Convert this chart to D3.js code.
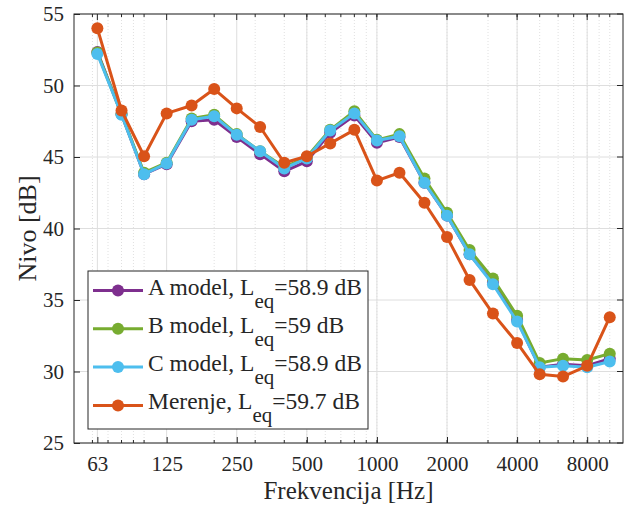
<!DOCTYPE html>
<html>
<head>
<meta charset="utf-8">
<script src="https://cdn.jsdelivr.net/npm/d3@7"></script>
<style>
  body { margin: 0; background: #fff; }
  text { font-family: "Liberation Serif", "Times New Roman", serif; fill: #262626; }
</style>
</head>
<body>
<svg width="626" height="510"></svg>
<script>
// third-octave bands
let freqs = [63, 80, 100, 125, 160, 200, 250, 315, 400, 500, 630, 800, 1000,
    1250, 1600, 2000, 2500, 3150, 4000, 5000, 6300, 8000, 10000];
let modelA = [52.35, 48.0, 43.8, 44.5, 47.5, 47.6, 46.4, 45.2, 44.0, 44.7, 46.7, 47.9, 46.0,
    46.4, 43.2, 40.9, 38.2, 36.2, 33.6, 30.3, 30.5, 30.4, 30.9];
let modelB = [52.3, 48.0, 43.9, 44.6, 47.7, 47.95, 46.6, 45.4, 44.3, 45.0, 46.9, 48.2, 46.2,
    46.6, 43.5, 41.1, 38.5, 36.5, 33.9, 30.6, 30.9, 30.8, 31.25];
let modelC = [52.2, 47.95, 43.8, 44.55, 47.6, 47.85, 46.55, 45.4, 44.2, 44.9, 46.85, 48.05, 46.15,
    46.45, 43.2, 40.9, 38.2, 36.1, 33.5, 30.3, 30.4, 30.3, 30.7];
let merenje = [54.0, 48.25, 45.05, 48.05, 48.6, 49.75, 48.4, 47.1, 44.6, 45.05, 45.95, 46.9, 43.35,
    43.9, 41.8, 39.4, 36.4, 34.05, 32.0, 29.8, 29.65, 30.4, 33.8];

let seriesNames = ["A model", "B model", "C model", "Merenje"];
let leqValues = ["58.9", "59", "58.9", "59.7"];
let seriesColors = ["#7E2F8E", "#77AC30", "#4DBEEE", "#D95319"];
let allSeries = [modelA, modelB, modelC, merenje];

let xTicks = [63, 125, 250, 500, 1000, 2000, 4000, 8000];
let xMinor = [60, 70, 80, 90, 100, 200, 300, 400, 500, 600, 700, 800, 900, 1000,
    2000, 3000, 4000, 5000, 6000, 7000, 8000, 9000, 10000];
let yTicks = [25, 30, 35, 40, 45, 50, 55];

let svg = d3.select("svg");
let margin = { left: 74, top: 14, right: 3, bottom: 67 };
let width = 626 - margin.left - margin.right,
    height = 510 - margin.top - margin.bottom;

let x = d3.scaleLog().domain([50, 11400]).range([0, width]);
let y = d3.scaleLinear().domain([25, 55]).range([height, 0]);

let g = svg.append("g").attr("transform", `translate(${margin.left},${margin.top})`);

// grid
g.selectAll(".minor-grid")
    .data(xMinor)
    .enter().append("line")
    .attr("x1", d => x(d)).attr("x2", d => x(d))
    .attr("y1", 0).attr("y2", height)
    .attr("stroke", "#e0e0e0").attr("stroke-width", 1)
    .attr("stroke-dasharray", "1,2");

g.selectAll(".major-grid-x")
    .data(xTicks)
    .enter().append("line")
    .attr("x1", d => x(d)).attr("x2", d => x(d))
    .attr("y1", 0).attr("y2", height)
    .attr("stroke", "#dedede").attr("stroke-width", 1);

g.selectAll(".major-grid-y")
    .data(yTicks)
    .enter().append("line")
    .attr("x1", 0).attr("x2", width)
    .attr("y1", d => y(d)).attr("y2", d => y(d))
    .attr("stroke", "#dedede").attr("stroke-width", 1);

// axes
let bottomAxis = d3.axisBottom(x).tickValues(xTicks).tickFormat(d3.format("d"))
    .tickSizeInner(-6).tickSizeOuter(0).tickPadding(13);
let leftAxis = d3.axisLeft(y).tickValues(yTicks).tickSizeInner(-6).tickSizeOuter(0).tickPadding(10);

let xAxisG = g.append("g").attr("transform", `translate(0,${height})`).call(bottomAxis);
let yAxisG = g.append("g").call(leftAxis);
[xAxisG, yAxisG].forEach(a => {
    a.select(".domain").remove();
    a.selectAll("line").attr("stroke", "#262626");
    a.selectAll("text").style("font-size", "21px")
        .style("font-family", "'Liberation Serif', serif").attr("fill", "#262626");
});

// minor ticks on bottom/top
g.selectAll(".minor-tick-b")
    .data(xMinor)
    .enter().append("line")
    .attr("x1", d => x(d)).attr("x2", d => x(d))
    .attr("y1", height).attr("y2", height - 3)
    .attr("stroke", "#262626");
g.selectAll(".minor-tick-t")
    .data(xMinor)
    .enter().append("line")
    .attr("x1", d => x(d)).attr("x2", d => x(d))
    .attr("y1", 0).attr("y2", 3)
    .attr("stroke", "#262626");
g.selectAll(".major-tick-t")
    .data(xTicks)
    .enter().append("line")
    .attr("x1", d => x(d)).attr("x2", d => x(d))
    .attr("y1", 0).attr("y2", 6)
    .attr("stroke", "#262626");
g.selectAll(".major-tick-r")
    .data(yTicks)
    .enter().append("line")
    .attr("x1", width).attr("x2", width - 6)
    .attr("y1", d => y(d)).attr("y2", d => y(d))
    .attr("stroke", "#262626");

// box
g.append("rect")
    .attr("width", width).attr("height", height)
    .attr("fill", "none").attr("stroke", "#262626").attr("stroke-width", 1);

// series
let line = d3.line().x((d, i) => x(freqs[i])).y(d => y(d));

allSeries.forEach((vals, k) => {
    g.append("path")
        .datum(vals)
        .attr("fill", "none")
        .attr("stroke", seriesColors[k])
        .attr("stroke-width", 3)
        .attr("stroke-linejoin", "round")
        .attr("d", line);
    g.selectAll(".dot" + k)
        .data(vals)
        .enter().append("circle")
        .attr("cx", (d, i) => x(freqs[i]))
        .attr("cy", d => y(d))
        .attr("r", 6)
        .attr("fill", seriesColors[k]);
});

// axis labels
svg.append("text")
    .attr("x", margin.left + width / 2)
    .attr("y", 499)
    .attr("text-anchor", "middle")
    .style("font-size", "25px")
    .text("Frekvencija [Hz]");

svg.append("text")
    .attr("transform", `translate(36,${margin.top + height / 2}) rotate(-90)`)
    .attr("text-anchor", "middle")
    .style("font-size", "26px")
    .text("Nivo [dB]");

// legend
let legend = svg.append("g").attr("transform", "translate(88,271)");
legend.append("rect")
    .attr("width", 280).attr("height", 158)
    .attr("fill", "#fff").attr("stroke", "#262626").attr("stroke-width", 1);

let item = legend.selectAll(".item")
    .data(seriesNames)
    .enter().append("g")
    .attr("transform", (d, i) => `translate(0,${19.5 + i * 38.3})`);

item.append("line")
    .attr("x1", 5).attr("x2", 55)
    .attr("stroke", (d, i) => seriesColors[i]).attr("stroke-width", 3);
item.append("circle")
    .attr("cx", 30).attr("r", 6)
    .attr("fill", (d, i) => seriesColors[i]);

let label = item.append("text")
    .attr("x", 60).attr("y", 4)
    .style("font-size", "23.5px");
label.append("tspan").text(d => d + ", L");
label.append("tspan").attr("dy", 13).style("font-size", "21px").text("eq");
label.append("tspan").attr("dy", -13).text((d, i) => "=" + leqValues[i] + " dB");
</script>
</body>
</html>
